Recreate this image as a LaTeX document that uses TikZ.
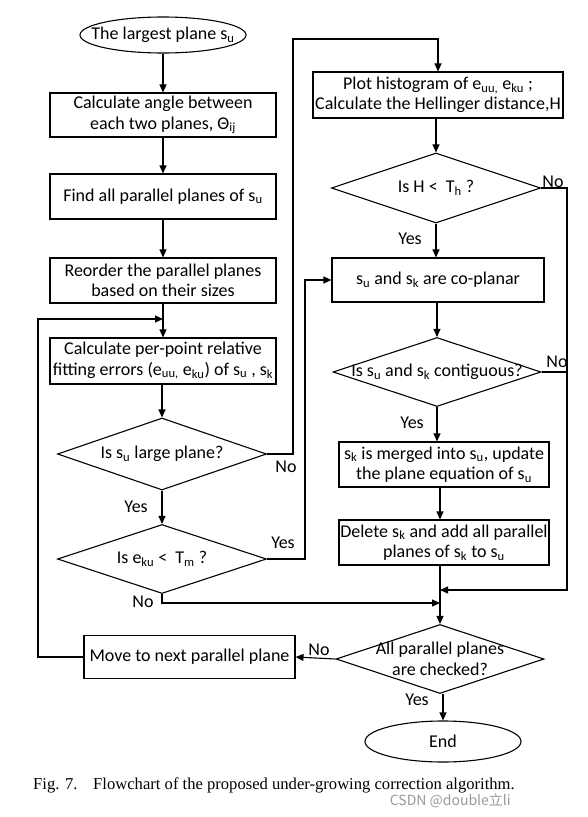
\documentclass[tikz,border=0pt]{standalone}
\usepackage{fontspec}
\setmainfont{Carlito}
\newfontfamily\capfont{Liberation Serif}
\newfontfamily\wmfont{Noto Sans CJK SC}
\usetikzlibrary{shapes.geometric,arrows.meta}
\newcommand{\sbs}[1]{\textsubscript{#1}}
\begin{document}
\begin{tikzpicture}[x=1pt,y=-1pt,
  every node/.style={font=\fontsize{18}{20.5}\selectfont},
  box/.style={draw, line width=1.1pt, align=center, inner sep=0pt, minimum width=226, minimum height=45},
  dia/.style={draw, diamond, line width=1.1pt, inner sep=0pt, minimum width=209, minimum height=70},
  term/.style={draw, ellipse, line width=1.1pt, inner sep=0pt},
  lbl/.style={inner sep=1pt},
  arr/.style={line width=1.1pt, -{Triangle[length=8pt,width=7pt]}},
  ln/.style={line width=1.1pt}]
\useasboundingbox (0,0) rectangle (588,817);
% left column
\node[term, minimum width=166, minimum height=36, label={[anchor=center]center:The largest plane s\sbs{u}}] (start) at (163,35) {};
\node[box, minimum height=44] (b1) at (163,115) {Calculate angle between\\each two planes, Θ\sbs{ij}};
\node[box] (b2) at (163,196.5) {Find all parallel planes of s\sbs{u}};
\node[box] (b3) at (163,280.5) {Reorder the parallel planes\\based on their sizes};
\node[box, minimum height=46] (b4) at (163,361) {Calculate per-point relative\\fitting errors (e\sbs{uu,} e\sbs{ku}) of s\sbs{u} , s\sbs{k}};
\node[dia, minimum height=72, label={[anchor=center]center:Is s\sbs{u} large plane?}] (d1) at (162,454) {};
\node[dia, minimum height=69, label={[anchor=center]center:Is e\sbs{ku} <~ T\sbs{m} ?}] (d2) at (162,559) {};
\node[box, minimum width=211, minimum height=43] (move) at (189.5,657) {Move to next parallel plane};
% right column
\node[box, minimum width=250, minimum height=46] (plot) at (438,95) {Plot histogram of e\sbs{uu,} e\sbs{ku} ;\\Calculate the Hellinger distance,H};
\node[dia, label={[anchor=center]center:Is H <~ T\sbs{h} ?}] (H) at (436,188) {};
\node[box, minimum width=212, minimum height=44] (cop) at (438,280) {s\sbs{u} and s\sbs{k} are co-planar};
\node[dia, minimum width=208, minimum height=69, label={[anchor=center]center:Is s\sbs{u} and s\sbs{k} contiguous?}] (cont) at (437,372) {};
\node[box, minimum width=210, minimum height=45] (merge) at (444,464.5) {s\sbs{k} is merged into s\sbs{u}, update\\the plane equation of s\sbs{u}};
\node[box, minimum width=210, minimum height=45] (del) at (444,542.5) {Delete s\sbs{k} and add all parallel\\planes of s\sbs{k} to s\sbs{u}};
\node[dia, minimum width=208, minimum height=69, label={[anchor=center,align=center]center:All parallel planes\\are checked?}] (all) at (440,659) {};
\node[term, minimum width=156, minimum height=41, label={[anchor=center]center:End}] (end) at (443,741.5) {};
% coordinates
\coordinate (c1) at (293,39);
\coordinate (c2) at (305,280);
\coordinate (c3) at (567,188);
\coordinate (c4) at (38,319);
\coordinate (m0) at (163,319);
\coordinate (m1) at (440,603);
\coordinate (m2) at (440,590);
% connectors
\draw[arr] (start) -- (b1);
\draw[arr] (b1) -- (b2);
\draw[arr] (b2) -- (b3);
\draw[arr] (b3) -- (b4);
\draw[arr] (b4.south -| d1.north) -- (d1.north);
\draw[arr] (d1) -- (d2);
\draw[arr] (d1.east) -| (c1) -| (plot.north);
\draw[arr] (d2.east) -| (c2) -- (cop.west);
\draw[arr] (d2.south) |- (m1);
\draw[arr] (plot.south -| H.north) -- (H.north);
\draw[arr] (H) -- (cop.north -| H.south);
\draw[arr] (cop.south -| cont.north) -- (cont.north);
\draw[arr] (cont.south) -- (cont.south |- merge.north);
\draw[arr] (merge.south -| all.north) -- (del.north -| all.north);
\draw[arr] (del.south -| all.north) -- (all.north);
\draw[arr] (H.east) -| (c3) |- (m2);
\draw[ln] (cont.east) -- (cont.east -| c3);
\draw[arr] (all.west) -- (move.east);
\draw[arr] (all.south -| end.north) -- (end.north);
\draw[arr] (move.west) -| (c4) -- (m0);
% labels
\node[lbl] (n1) at (286,467) {No};
\node[lbl] (y1) at (136,507) {Yes};
\node[lbl] (y2) at (283,543) {Yes};
\node[lbl] (n2) at (143,602) {No};
\node[lbl] (n3) at (553,182) {No};
\node[lbl] (y3) at (410,239) {Yes};
\node[lbl] (n4) at (557,362) {No};
\node[lbl] (y4) at (412,423) {Yes};
\node[lbl] (n5) at (319,650) {No};
\node[lbl] (y5) at (417,700) {Yes};
% caption
\node[anchor=west, inner sep=0pt, font=\capfont\fontsize{16.6}{18}\selectfont] (cap) at (33,785) {Fig. 7.\hspace{0.95em}Flowchart of the proposed under-growing correction algorithm.};
\node[anchor=east, inner sep=0pt, text=black!40, font=\wmfont\fontsize{14}{16}\selectfont] (wm) at (511,801) {CSDN @double立li};
\end{tikzpicture}
\end{document}
